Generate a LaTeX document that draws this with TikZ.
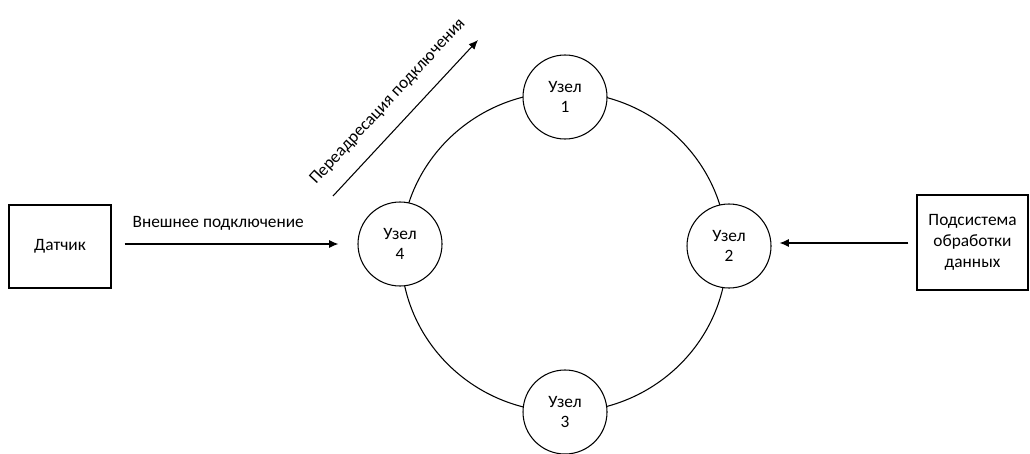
\documentclass[tikz,border=0pt]{standalone}
\usepackage{fontspec}
\setmainfont{Carlito}
\usetikzlibrary{arrows.meta}
\begin{document}
\begin{tikzpicture}[x=0.75pt,y=-0.75pt,
  every node/.style={font=\fontsize{13}{15.5}\selectfont},
  box/.style={draw,line width=0.8pt,align=center,inner sep=0pt},
  knot/.style={draw,circle,fill=white,line width=0.8pt,minimum size=63pt,inner sep=0pt,align=center},
  conn/.style={-{Latex[length=7pt,width=6pt]},line width=0.8pt}]
\useasboundingbox (0,0) rectangle (1030,453);
\draw[line width=0.8pt] (564,252) ellipse [x radius=163, y radius=160];
\node[box,minimum width=76.5pt,minimum height=62.25pt] (d) at (60,246.5) {Датчик};
\node[box,minimum width=83.25pt,minimum height=71.25pt] (p) at (972.5,242.5) {Подсистема\\обработки\\данных};
\node[knot] (n1) at (565,97) {Узел\\1};
\node[knot] (n2) at (729,246) {Узел\\2};
\node[knot] (n3) at (565,412) {Узел\\3};
\node[knot] (n4) at (400,244) {Узел\\4};
\draw[conn] ([xshift=9.75pt]d.east|-0,244) coordinate (a1) -- ([xshift=-14.25pt]n4.west|-0,244) coordinate (a2);
\path (a1) -- (a2) node[midway,above=7pt,xshift=-10pt] (l1) {Внешнее подключение};
\draw[conn] ([xshift=-6pt]p.west|-0,243) coordinate (b1) -- ([xshift=6pt]n2.east|-0,243) coordinate (b2);
\coordinate (c1) at (333,196);
\coordinate (c2) at (478,40);
\draw[conn] (c1) -- (c2) node[midway,sloped,above=9pt,xshift=0pt] (l2) {Переадресация подключения};
\end{tikzpicture}
\end{document}
